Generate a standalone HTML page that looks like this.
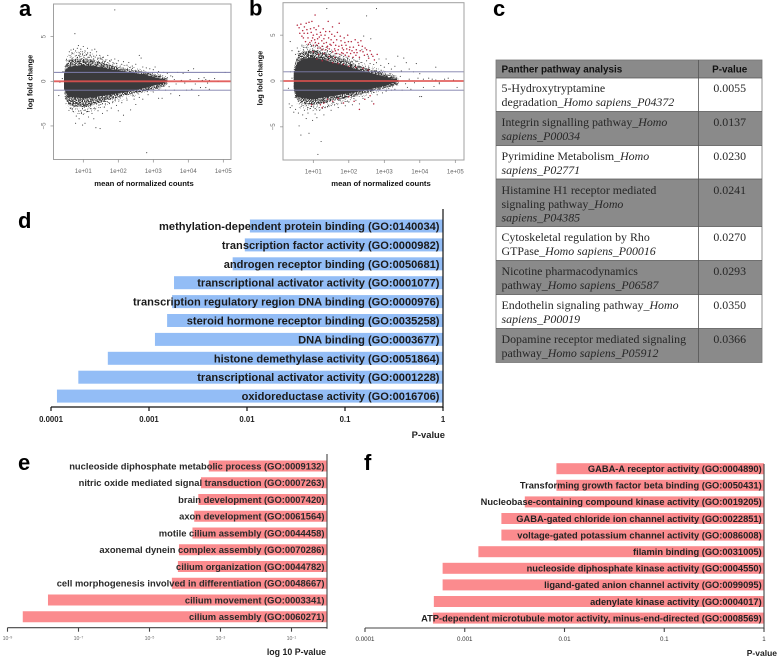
<!DOCTYPE html>
<html lang="en">
<head>
<meta charset="utf-8">
<title>Differential expression and enrichment figure</title>
<style>
html,body{margin:0;padding:0;background:#fff;width:778px;height:658px;overflow:hidden}
svg{display:block;filter:blur(0.35px)}
text{font-family:"Liberation Sans",Arial,sans-serif}
.serif{font-family:"Liberation Serif","Times New Roman",serif;font-size:11.9px;fill:#262626}
.hdr{font-size:9.9px;font-weight:bold;fill:#111}
.panel{font-size:22px;font-weight:bold;fill:#000}
</style>
</head>
<body>
<svg id="fig" xmlns="http://www.w3.org/2000/svg" width="778" height="658" viewBox="0 0 778 658">
<defs>
<filter id="speckle-dense" x="-5%" y="-5%" width="110%" height="110%" color-interpolation-filters="sRGB">
<feTurbulence type="fractalNoise" baseFrequency="0.85" numOctaves="1" seed="4" result="n"/>
<feColorMatrix in="n" type="matrix" values="0 0 0 0 0  0 0 0 0 0  0 0 0 0 0  0 0 0 9 -3.9" result="m"/>
<feComposite in="SourceGraphic" in2="m" operator="in"/>
</filter>
<filter id="speckle-sparse" x="-5%" y="-5%" width="110%" height="110%" color-interpolation-filters="sRGB">
<feTurbulence type="fractalNoise" baseFrequency="0.8" numOctaves="1" seed="11" result="n"/>
<feColorMatrix in="n" type="matrix" values="0 0 0 0 0  0 0 0 0 0  0 0 0 0 0  0 0 0 9 -5.2" result="m"/>
<feComposite in="SourceGraphic" in2="m" operator="in"/>
</filter>
</defs>
<rect x="0" y="0" width="778" height="658" fill="#fff"/>
<text class="panel" x="19" y="16">a</text>
<text class="panel" x="249" y="15.5">b</text>
<text class="panel" x="493" y="16">c</text>
<text class="panel" x="18" y="228">d</text>
<text class="panel" x="18" y="470">e</text>
<text class="panel" x="364" y="470">f</text>

<g id="pathway-table">
<rect x="496" y="60" width="266" height="18" fill="#8a8a8a"/>
<rect x="496" y="78" width="266" height="33.5" fill="#ffffff"/>
<rect x="496" y="111.5" width="266" height="34" fill="#8a8a8a"/>
<rect x="496" y="145.5" width="266" height="33.5" fill="#ffffff"/>
<rect x="496" y="179" width="266" height="47.5" fill="#8a8a8a"/>
<rect x="496" y="226.5" width="266" height="34" fill="#ffffff"/>
<rect x="496" y="260.5" width="266" height="34" fill="#8a8a8a"/>
<rect x="496" y="294.5" width="266" height="34" fill="#ffffff"/>
<rect x="496" y="328.5" width="266" height="34" fill="#8a8a8a"/>
<g stroke="#555" stroke-width="0.8" fill="none">
<rect x="496" y="60" width="266" height="302.5" stroke="#777"/>
<line x1="698.5" y1="60" x2="698.5" y2="362.5"/>
<line x1="496" y1="78" x2="762" y2="78"/>
<line x1="496" y1="111.5" x2="762" y2="111.5"/>
<line x1="496" y1="145.5" x2="762" y2="145.5"/>
<line x1="496" y1="179" x2="762" y2="179"/>
<line x1="496" y1="226.5" x2="762" y2="226.5"/>
<line x1="496" y1="260.5" x2="762" y2="260.5"/>
<line x1="496" y1="294.5" x2="762" y2="294.5"/>
<line x1="496" y1="328.5" x2="762" y2="328.5"/>
</g>
<text class="hdr" x="501.5" y="72.5">Panther pathway analysis</text>
<text class="hdr" x="729.7" y="72.5" text-anchor="middle">P-value</text>

<text class="serif" x="501.5" y="92">5-Hydroxytryptamine</text>
<text class="serif" x="501.5" y="106">degradation<tspan font-style="italic">_Homo sapiens_P04372</tspan></text>
<text class="serif" x="729.7" y="92" text-anchor="middle">0.0055</text>

<text class="serif" x="501.5" y="126">Integrin signalling pathway<tspan font-style="italic">_Homo</tspan></text>
<text class="serif" x="501.5" y="140" font-style="italic">sapiens_P00034</text>
<text class="serif" x="729.7" y="126" text-anchor="middle">0.0137</text>

<text class="serif" x="501.5" y="160">Pyrimidine Metabolism<tspan font-style="italic">_Homo</tspan></text>
<text class="serif" x="501.5" y="174" font-style="italic">sapiens_P02771</text>
<text class="serif" x="729.7" y="160" text-anchor="middle">0.0230</text>

<text class="serif" x="501.5" y="194">Histamine H1 receptor mediated</text>
<text class="serif" x="501.5" y="208">signaling pathway<tspan font-style="italic">_Homo</tspan></text>
<text class="serif" x="501.5" y="221.5" font-style="italic">sapiens_P04385</text>
<text class="serif" x="729.7" y="194" text-anchor="middle">0.0241</text>

<text class="serif" x="501.5" y="241">Cytoskeletal regulation by Rho</text>
<text class="serif" x="501.5" y="255">GTPase<tspan font-style="italic">_Homo sapiens_P00016</tspan></text>
<text class="serif" x="729.7" y="241" text-anchor="middle">0.0270</text>

<text class="serif" x="501.5" y="275">Nicotine pharmacodynamics</text>
<text class="serif" x="501.5" y="289">pathway<tspan font-style="italic">_Homo sapiens_P06587</tspan></text>
<text class="serif" x="729.7" y="275" text-anchor="middle">0.0293</text>

<text class="serif" x="501.5" y="309">Endothelin signaling pathway<tspan font-style="italic">_Homo</tspan></text>
<text class="serif" x="501.5" y="323" font-style="italic">sapiens_P00019</text>
<text class="serif" x="729.7" y="309" text-anchor="middle">0.0350</text>

<text class="serif" x="501.5" y="343">Dopamine receptor mediated signaling</text>
<text class="serif" x="501.5" y="357">pathway<tspan font-style="italic">_Homo sapiens_P05912</tspan></text>
<text class="serif" x="729.7" y="343" text-anchor="middle">0.0366</text>
</g>
</svg>
<script>
// ---------- MA plot data ----------
const maTickExponents = [1, 2, 3, 4, 5];
const maTickLabels = ['1e+01', '1e+02', '1e+03', '1e+04', '1e+05'];
const maYTicks = [-5, 0, 5];
const maYTickLabels = ['\u22125', '0', '5'];

// point-cloud envelopes: log10 mean vs. upper/lower log fold change
const coreLogMean = [0.45, 0.5, 0.58, 0.7, 1.0, 1.3, 1.6, 1.9, 2.2, 2.5, 2.8, 3.0, 3.2, 3.4];
const coreUpperA = [0.8, 1.3, 1.6, 1.7, 1.8, 1.7, 1.5, 1.3, 1.1, 0.9, 0.7, 0.5, 0.3, 0.1];
const coreLowerA = [-0.8, -1.3, -1.7, -1.8, -1.9, -1.8, -1.6, -1.4, -1.2, -1.0, -0.7, -0.5, -0.3, -0.1];
const haloUpperA = [1.0, 1.9, 2.3, 2.5, 2.6, 2.4, 2.0, 1.7, 1.4, 1.2, 1.0, 0.8, 0.6, 0.3];
const haloLowerA = [-1.0, -2.0, -2.6, -2.8, -2.9, -2.6, -2.2, -1.9, -1.6, -1.3, -1.1, -0.9, -0.7, -0.3];
const outerUpperA = [1.2, 2.5, 3.0, 3.3, 3.4, 3.1, 2.6, 2.1, 1.8, 1.5, 1.2, 1.0, 0.8, 0.5];
const outerLowerA = [-1.2, -2.8, -3.3, -3.6, -3.7, -3.3, -2.8, -2.4, -2.0, -1.7, -1.4, -1.1, -0.9, -0.5];
const coreUpperB = [0.8, 1.5, 2.1, 2.4, 2.6, 2.3, 2.0, 1.7, 1.3, 1.0, 0.7, 0.5, 0.3, 0.1];
const coreLowerB = [-0.8, -1.3, -1.7, -1.9, -2.0, -1.8, -1.6, -1.4, -1.2, -1.0, -0.7, -0.5, -0.3, -0.1];
const haloUpperB = [1.1, 2.1, 2.9, 3.2, 3.4, 3.1, 2.7, 2.3, 1.8, 1.4, 1.1, 0.8, 0.6, 0.3];
const haloLowerB = [-1.0, -1.8, -2.2, -2.5, -2.6, -2.4, -2.1, -1.9, -1.6, -1.3, -1.0, -0.8, -0.6, -0.3];
const outerUpperB = [1.3, 2.6, 3.4, 3.9, 4.2, 3.8, 3.3, 2.9, 2.3, 1.8, 1.4, 1.1, 0.8, 0.5];
const outerLowerB = [-1.3, -2.3, -2.9, -3.1, -3.3, -3.0, -2.7, -2.4, -2.0, -1.6, -1.3, -1.0, -0.8, -0.5];

// outlying genes, panel a: [log10 mean, log fold change]
const genesA = [[1.9,8],[2.81,-8],[0.76,5.33],[0.6,3.3],[0.62,2.9],[0.65,3.5],[0.68,2.6],[0.7,3.1],[0.72,3.6],[0.78,3.4],[0.8,2.9],[0.83,3.7],[0.86,4.0],[0.88,3.2],[0.9,2.8],[0.93,3.6],[0.97,3.3],[1.0,3.9],[1.03,2.9],[1.05,3.4],[1.1,3.0],[1.12,3.7],[1.16,2.7],[1.2,3.2],[1.25,3.5],[1.3,2.8],[1.33,3.6],[1.38,3.3],[1.42,2.6],[1.47,2.9],[1.52,2.5],[1.57,2.7],[1.6,2.2],[1.65,2.4],[1.7,2.9],[1.75,2.3],[1.8,2.4],[1.85,2.1],[1.9,2.5],[1.95,2.0],[2.0,2.3],[2.1,1.9],[2.15,2.2],[2.25,1.8],[2.3,2.1],[2.4,1.7],[2.5,1.9],[2.6,2.9],[2.65,2.6],[2.7,1.6],[2.8,1.5],[2.9,1.4],[3.0,1.3],[3.05,1.6],[3.15,1.1],[3.3,1.0],[3.4,0.9],[3.5,0.6],[3.55,0.5],[3.7,1.0],[3.85,0.9],[4.0,1.2],[4.15,1.4],[4.3,0.3],[4.45,0.4],[4.5,0.2],[4.6,0.1],[4.75,0.3],[4.85,0.0],[5.05,1.0],
[0.55,-1.7],[0.6,-2.5],[0.63,-3.0],[0.68,-2.2],[0.72,-3.4],[0.75,-2.8],[0.78,-4.7],[0.8,-3.9],[0.85,-2.6],[0.88,-4.2],[0.93,-3.3],[0.98,-4.9],[1.0,-3.7],[1.03,-2.9],[1.05,-4.7],[1.1,-3.4],[1.15,-4.0],[1.2,-2.7],[1.25,-3.6],[1.3,-4.2],[1.32,-3.0],[1.36,-5.2],[1.42,-3.3],[1.48,-5.3],[1.5,-2.6],[1.55,-3.6],[1.6,-2.9],[1.68,-3.3],[1.75,-2.5],[1.8,-3.0],[1.85,-2.3],[1.95,-2.7],[2.0,-3.3],[2.05,-4.5],[2.1,-2.4],[2.15,-3.8],[2.25,-2.1],[2.35,-3.2],[2.45,-2.0],[2.5,-2.6],[2.6,-1.8],[2.7,-2.0],[2.85,-1.5],[3.0,-1.2],[3.15,-1.9],[3.25,-1.9],[3.35,-1.0],[3.5,-1.4],[3.6,-1.0],[3.75,-1.6],[3.95,-1.0],[4.1,-0.9],[4.3,-1.6],[4.35,-0.7],[4.5,-0.7],[4.6,-0.9],
[0.4,0.3],[0.33,-0.1],[0.3,-1.6],[0.42,1.1],[3.1,-0.7],[3.2,0.7],[3.3,-0.5],[3.4,0.4],[3.45,-0.6],[3.6,0.2],[3.65,-0.3],[3.8,0.1],[3.9,-0.2],[4.05,0.2],[4.2,-0.3],[4.4,0.1],[4.55,-0.2]];

// outlying genes, panel b (not significant)
const genesB = [[1.38,7.9],[2.78,7.9],[2.5,7.1],[0.35,4.3],[0.4,3.3],[0.5,2.9],[0.55,3.6],[0.62,3.0],[0.68,3.9],[0.72,3.4],[0.78,3.0],[0.82,3.7],[0.88,3.2],[0.92,4.0],[0.98,3.5],[1.02,3.1],[1.06,3.8],[1.12,3.3],[1.18,3.6],[1.22,3.0],[1.28,3.5],[1.32,3.1],[1.4,3.3],[1.46,2.9],[1.52,3.1],[1.58,2.8],[1.65,3.0],[1.72,2.6],[1.8,2.8],[1.86,2.4],[1.95,2.6],[2.02,2.3],[2.1,2.5],[2.2,2.1],[2.3,2.4],[2.37,3.4],[2.42,4.9],[2.5,2.2],[2.55,2.7],[2.62,4.6],[2.6,1.9],[2.7,1.8],[2.78,2.0],[2.85,2.4],[2.9,1.7],[3.0,1.5],[3.05,2.4],[3.12,1.9],[3.2,1.3],[3.3,1.6],[3.38,2.7],[3.48,1.1],[3.55,2.5],[3.62,2.0],[3.7,1.3],[3.82,1.0],[3.9,1.9],[4.45,1.5],[4.0,0.8],[4.1,0.2],[4.25,0.3],[4.35,0.2],[4.45,0.1],[4.55,-0.3],[4.7,0.2],[4.8,0.3],[4.95,0.1],
[0.32,-2.5],[0.35,-2.9],[0.4,-2.7],[0.45,-3.4],[0.5,-3.1],[0.58,-3.5],[0.6,-4.9],[0.65,-5.9],[0.7,-3.7],[0.75,-3.2],[0.8,-4.1],[0.85,-3.5],[0.88,-5.7],[0.92,-3.0],[0.98,-4.3],[1.05,-3.6],[1.1,-4.0],[1.13,-8.0],[1.18,-3.2],[1.22,-6.6],[1.25,-3.0],[1.3,-3.7],[1.4,-2.8],[1.5,-3.2],[1.6,-2.6],[1.7,-2.9],[1.8,-2.4],[1.9,-2.7],[2.0,-2.3],[2.1,-2.6],[2.2,-2.1],[2.3,-2.5],[2.4,-1.9],[2.55,-1.8],[2.65,-2.2],[2.8,-1.5],[2.95,-1.3],[3.05,-1.1],[3.2,-1.0],[3.3,-0.9],[3.5,-1.0],[3.65,-0.7],[3.75,-0.9],[4.0,-1.7],[4.05,-1.7],[4.1,-0.7],[4.4,-0.6],[4.55,-0.2],[5.05,-0.7],
[0.4,0.3],[0.3,-0.8],[0.36,1.0],[3.1,-0.6],[3.25,0.6],[3.35,-0.4],[3.45,0.5],[3.6,-0.3],[3.7,0.2],[3.85,-0.2],[3.95,0.3]];

// significant genes, panel b (red)
const sigB = [[0.55,6.1],[0.6,5.8],[0.65,6.2],[0.7,5.5],[0.75,5.9],[0.8,6.3],[0.84,5.2],[0.88,6.4],[0.92,5.7],[0.96,6.5],[1.0,5.0],[1.05,7.2],[1.08,5.6],[1.12,4.6],[1.15,6.0],[1.2,5.3],[1.24,4.4],[1.28,5.7],[1.33,5.0],[1.37,4.2],[1.42,6.5],[1.46,5.4],[1.5,4.5],[1.54,5.9],[1.6,4.9],[1.63,3.9],[1.68,5.3],[1.73,6.3],[1.78,4.4],[1.82,3.6],[1.87,4.7],[1.92,3.9],[1.97,5.0],[2.02,3.4],[2.07,4.3],[2.13,3.7],[2.18,4.5],[2.23,3.1],[2.28,3.9],[2.34,4.4],[2.4,3.2],[2.46,3.6],[2.52,2.9],[2.6,3.3],[2.68,2.7],[0.72,4.7],[0.78,4.3],[0.85,4.7],[0.9,4.2],[0.95,4.4],[1.0,3.9],[1.04,4.5],[1.1,3.9],[1.15,4.1],[1.2,3.6],[1.25,3.8],[1.3,4.1],[1.35,3.4],[1.4,3.8],[1.45,3.5],[1.5,3.9],[1.55,3.2],[1.6,3.5],[1.65,3.0],[1.7,3.4],[1.75,2.9],[1.8,3.1],[1.85,3.4],[1.9,2.8],[1.95,3.1],[2.0,2.7],[2.05,3.0],[2.12,2.6],[2.2,2.8],[2.3,2.6],[1.1,2.4],[1.25,2.2],[1.4,2.3],[1.55,2.0],[1.7,1.9],[1.85,1.8],[2.0,1.6],[2.2,1.5],[2.4,1.4],[2.55,1.2],
[0.62,5.2],[0.68,4.9],[0.74,5.2],[0.82,5.6],[0.86,4.0],[0.94,5.3],[0.98,4.7],[1.02,5.8],[1.06,4.2],[1.1,5.1],[1.13,3.6],[1.17,4.8],[1.22,5.0],[1.26,3.4],[1.3,4.6],[1.35,5.4],[1.38,3.7],[1.43,4.7],[1.47,4.0],[1.52,5.1],[1.57,4.2],[1.62,3.3],[1.66,4.5],[1.72,3.8],[1.76,4.9],[1.8,3.9],[1.84,3.0],[1.89,4.2],[1.94,3.5],[1.99,4.3],[2.03,3.7],[2.09,3.3],[2.15,3.1],[2.21,3.4],[2.26,4.2],[2.32,3.3],[2.38,3.8],[2.44,2.8],[2.5,3.4],[2.56,2.5],[2.64,2.9],[2.72,2.3],[2.8,2.9],[1.0,3.2],[1.15,2.9],[1.3,3.0],[1.45,2.7],[1.6,2.6],
[1.2,-2.6],[1.25,-2.9],[1.3,-2.4],[1.4,-2.0],[1.55,-2.2],[1.7,-1.9],[1.85,-2.4],[2.0,-1.7],[2.15,-2.2],[2.3,-3.1],[2.45,-2.0],[2.6,-1.6],[2.7,-2.5],[0.95,-2.6]];

// ---------- bar chart data ----------
const goLabelsD = ['methylation-dependent protein binding (GO:0140034)','transcription factor activity (GO:0000982)','androgen receptor binding (GO:0050681)','transcriptional activator activity (GO:0001077)','transcription regulatory region DNA binding (GO:0000976)','steroid hormone receptor binding (GO:0035258)','DNA binding (GO:0003677)','histone demethylase activity (GO:0051864)','transcriptional activator activity (GO:0001228)','oxidoreductase activity (GO:0016706)'];
const pValuesD = [0.0107, 0.0095, 0.00714, 0.0018, 0.00172, 0.00153, 0.00115, 0.00038, 0.00019, 0.000115];
const ticksD = [0.0001, 0.001, 0.01, 0.1, 1];
const tickLabelsD = ['0.0001', '0.001', '0.01', '0.1', '1'];

const goLabelsE = ['nucleoside diphosphate metabolic process (GO:0009132)','nitric oxide mediated signal transduction (GO:0007263)','brain development (GO:0007420)','axon development (GO:0061564)','motile cilium assembly (GO:0044458)','axonemal dynein complex assembly (GO:0070286)','cilium organization (GO:0044782)','cell morphogenesis involved in differentiation (GO:0048667)','cilium movement (GO:0003341)','cilium assembly (GO:0060271)'];
const log10PE = [-3.33, -3.55, -3.625, -3.74, -3.79, -4.17, -4.2, -4.37, -7.86, -8.57];
const ticksE = [-9, -7, -5, -3, -1];

const goLabelsF = ['GABA-A receptor activity (GO:0004890)','Transforming growth factor beta binding (GO:0050431)','Nucleobase-containing compound kinase activity (GO:0019205)','GABA-gated chloride ion channel activity (GO:0022851)','voltage-gated potassium channel activity (GO:0086008)','filamin binding (GO:0031005)','nucleoside diphosphate kinase activity (GO:0004550)','ligand-gated anion channel activity (GO:0099095)','adenylate kinase activity (GO:0004017)','ATP-dependent microtubule motor activity, minus-end-directed (GO:0008569)'];
const pValuesF = [0.0083, 0.0083, 0.0040, 0.00233, 0.00233, 0.00137, 0.0006, 0.0006, 0.00049, 0.00048];
const ticksF = [0.0001, 0.001, 0.01, 0.1, 1];
const tickLabelsF = ['0.0001', '0.001', '0.01', '0.1', '1'];

// ---------- helpers ----------
const fig = document.getElementById('fig');
const NS = 'http://www.w3.org/2000/svg';
function mk(tag, parent, props) {
  const el = document.createElementNS(NS, tag);
  for (const k in props) el.setAttribute(k, props[k]);
  parent.appendChild(el);
  return el;
}

function drawMA(o) {
  const g = mk('g', fig, {});
  
  
  const sx = v => o.x10 + (v - 1) * o.xDecade;
  const sy = v => o.y0 - v * o.yUnit;
  const clip = mk('clipPath', g, {id: o.name + '-clip'});
  mk('rect', clip, {x: o.left, y: o.top, width: o.right - o.left, height: o.bottom - o.top});

  const bandPath = (up, lo) => {
    let d = '';
    coreLogMean.forEach((m, i) => { d += (i ? 'L' : 'M') + sx(m).toFixed(1) + ' ' + sy(up[i]).toFixed(1); });
    for (let i = coreLogMean.length - 1; i >= 0; i--) d += 'L' + sx(coreLogMean[i]).toFixed(1) + ' ' + sy(lo[i]).toFixed(1);
    return d + 'Z';
  };
  const outer = mk('path', g, {d: bandPath(o.outerUp, o.outerLo), fill: '#333', filter: 'url(#speckle-sparse)'});
  
  
  const halo = mk('path', g, {d: bandPath(o.haloUp, o.haloLo), fill: '#333', filter: 'url(#speckle-dense)'});
  
  
  const core = mk('path', g, {d: bandPath(o.coreUp, o.coreLo), fill: '#3a3a3c'});
  
  

  const pts = mk('g', g, {'clip-path': 'url(#' + o.name + '-clip)'});
  o.genes.forEach(p => {
    const c = mk('circle', pts, {cx: sx(p[0]).toFixed(1), cy: sy(p[1]).toFixed(1), r: 0.55, fill: '#333'});
    
    
  });
  (o.sig || []).forEach(p => {
    const c = mk('circle', pts, {cx: sx(p[0]).toFixed(1), cy: sy(p[1]).toFixed(1), r: 0.75, fill: '#b5283f'});
    
    
  });

  [1, -1].forEach(v => {
    const l = mk('line', g, {x1: o.left, x2: o.right, y1: sy(v), y2: sy(v), stroke: '#7d7dab', 'stroke-width': 0.9});
    
    
  });
  const zero = mk('line', g, {x1: o.left, x2: o.right, y1: sy(0), y2: sy(0), stroke: '#e0524f', 'stroke-width': 1.8, opacity: 0.9});
  
  

  const box = mk('rect', g, {x: o.left, y: o.top, width: o.right - o.left, height: o.bottom - o.top, fill: 'none', stroke: '#a0a0a0', 'stroke-width': 1});
  
  

  maTickExponents.forEach((e, i) => {
    mk('line', g, {x1: sx(e), x2: sx(e), y1: o.bottom, y2: o.bottom + 3, stroke: '#888', 'stroke-width': 0.7});
    const t = mk('text', g, {x: sx(e), y: o.bottom + 13.5, 'text-anchor': 'middle', 'font-size': 6, fill: '#666'});
    t.textContent = maTickLabels[i];
    
    
  });
  maYTicks.forEach((v, i) => {
    mk('line', g, {x1: o.left - 3, x2: o.left, y1: sy(v), y2: sy(v), stroke: '#888', 'stroke-width': 0.7});
    const tx = o.left - 8;
    const t = mk('text', g, {x: tx, y: sy(v), 'text-anchor': 'middle', 'font-size': 6.2, fill: '#666', transform: 'rotate(-90 ' + tx + ' ' + sy(v) + ')'});
    t.textContent = maYTickLabels[i];
    
    
  });
  const xt = mk('text', g, {x: o.xTitleX, y: 186, 'text-anchor': 'middle', 'font-size': 7.7, 'font-weight': 'bold', fill: '#111'});
  xt.textContent = 'mean of normalized counts';
  
  
  const yt = mk('text', g, {x: o.yTitleX, y: o.yTitleY, 'text-anchor': 'middle', 'font-size': 7.4, 'font-weight': 'bold', fill: '#111', transform: 'rotate(-90 ' + o.yTitleX + ' ' + o.yTitleY + ')'});
  yt.textContent = 'log fold change';
  
  
}

function drawBars(o) {
  const g = mk('g', fig, {});
  
  
  const sx = v => o.axisRight + (v - o.maxLog) * o.decade;
  const barY = i => o.firstBarY + i * o.barStep;
  o.values.forEach((v, i) => {
    const x = sx(o.toLog(v));
    const r = mk('rect', g, {x: x, y: barY(i) - o.barH / 2, width: o.axisRight - x, height: o.barH, fill: o.color});
    
    
  });
  o.labels.forEach((s, i) => {
    const t = mk('text', g, {x: o.labelRight, y: barY(i) + o.fontSize * 0.36, 'text-anchor': 'end', 'font-size': o.fontSize, 'font-weight': 'bold', fill: o.labelFill});
    t.textContent = s;
    
    
  });
  const ya = mk('line', g, {x1: o.axisRight, x2: o.axisRight, y1: o.axisTop, y2: o.axisY + 1, stroke: o.axisColor, 'stroke-width': o.axisW});
  
  
  const xa = mk('line', g, {x1: sx(o.toLog(o.ticks[0])), x2: o.axisRight, y1: o.axisY, y2: o.axisY, stroke: o.axisColor, 'stroke-width': o.axisW});
  
  
  o.ticks.forEach((v, i) => {
    const x = sx(o.toLog(v));
    mk('line', g, {x1: x, x2: x, y1: o.axisY, y2: o.axisY + 4, stroke: o.axisColor, 'stroke-width': o.axisW});
    const t = mk('text', g, {x: x, y: o.tickY, 'text-anchor': 'middle', 'font-size': o.tickFont, 'font-weight': o.tickWeight, fill: o.tickFill});
    o.tickText(t, i);
    
    
  });
  const at = mk('text', g, {x: o.titleRight, y: o.titleY, 'text-anchor': 'end', 'font-size': o.titleFont, 'font-weight': 'bold', fill: '#222'});
  at.textContent = o.title;
  
  
}

// ---------- draw ----------
drawMA({name: 'ma-plot-a', left: 53.5, right: 231, top: 4, bottom: 159.5, x10: 83.3, xDecade: 35, y0: 81.3, yUnit: 8.93,
  coreUp: coreUpperA, coreLo: coreLowerA, haloUp: haloUpperA, haloLo: haloLowerA, outerUp: outerUpperA, outerLo: outerLowerA, genes: genesA,
  xTitleX: 144, yTitleX: 32.5, yTitleY: 82});
drawMA({name: 'ma-plot-b', left: 283, right: 464, top: 2.7, bottom: 160, x10: 313.3, xDecade: 35.5, y0: 81, yUnit: 9.17,
  coreUp: coreUpperB, coreLo: coreLowerB, haloUp: haloUpperB, haloLo: haloLowerB, outerUp: outerUpperB, outerLo: outerLowerB, genes: genesB, sig: sigB,
  xTitleX: 381, yTitleX: 262.5, yTitleY: 78});

drawBars({name: 'bar-chart-d', labels: goLabelsD, values: pValuesD, toLog: Math.log10, ticks: ticksD,
  tickText: (t, i) => { t.textContent = tickLabelsD[i]; },
  axisRight: 443, maxLog: 0, decade: 98, firstBarY: 226, barStep: 18.9, barH: 13, color: '#93bdf6',
  labelRight: 439.5, fontSize: 11.1, labelFill: '#1a1a1a', axisTop: 209, axisY: 407, axisW: 1.2, axisColor: '#111',
  tickY: 422, tickFont: 7.8, tickWeight: 'bold', tickFill: '#222', title: 'P-value', titleRight: 445, titleY: 438, titleFont: 9.4});

drawBars({name: 'bar-chart-e', labels: goLabelsE, values: log10PE, toLog: v => v, ticks: ticksE,
  tickText: (t, i) => {
    t.textContent = '10';
    const s = mk('tspan', t, {dy: -1.5, 'font-size': 3.4});
    s.textContent = '\u2212' + Math.abs(ticksE[i]);
  },
  axisRight: 327, maxLog: 0, decade: 35.5, firstBarY: 466, barStep: 16.75, barH: 11, color: '#fb8b8e',
  labelRight: 324.5, fontSize: 9.4, labelFill: '#2a2a2a', axisTop: 454, axisY: 627.7, axisW: 1.1, axisColor: '#444',
  tickY: 640, tickFont: 5.2, tickWeight: 'normal', tickFill: '#666', title: 'log 10 P-value', titleRight: 326, titleY: 655, titleFont: 8.8});

drawBars({name: 'bar-chart-f', labels: goLabelsF, values: pValuesF, toLog: Math.log10, ticks: ticksF,
  tickText: (t, i) => { t.textContent = tickLabelsF[i]; },
  axisRight: 764, maxLog: 0, decade: 99.75, firstBarY: 468.7, barStep: 16.6, barH: 11, color: '#fb8b8e',
  labelRight: 761.7, fontSize: 9.3, labelFill: '#222', axisTop: 464, axisY: 628, axisW: 1.1, axisColor: '#444',
  tickY: 641, tickFont: 6.2, tickWeight: 'normal', tickFill: '#333', title: 'P-value', titleRight: 777, titleY: 656, titleFont: 8.5});
</script>
</body>
</html>
